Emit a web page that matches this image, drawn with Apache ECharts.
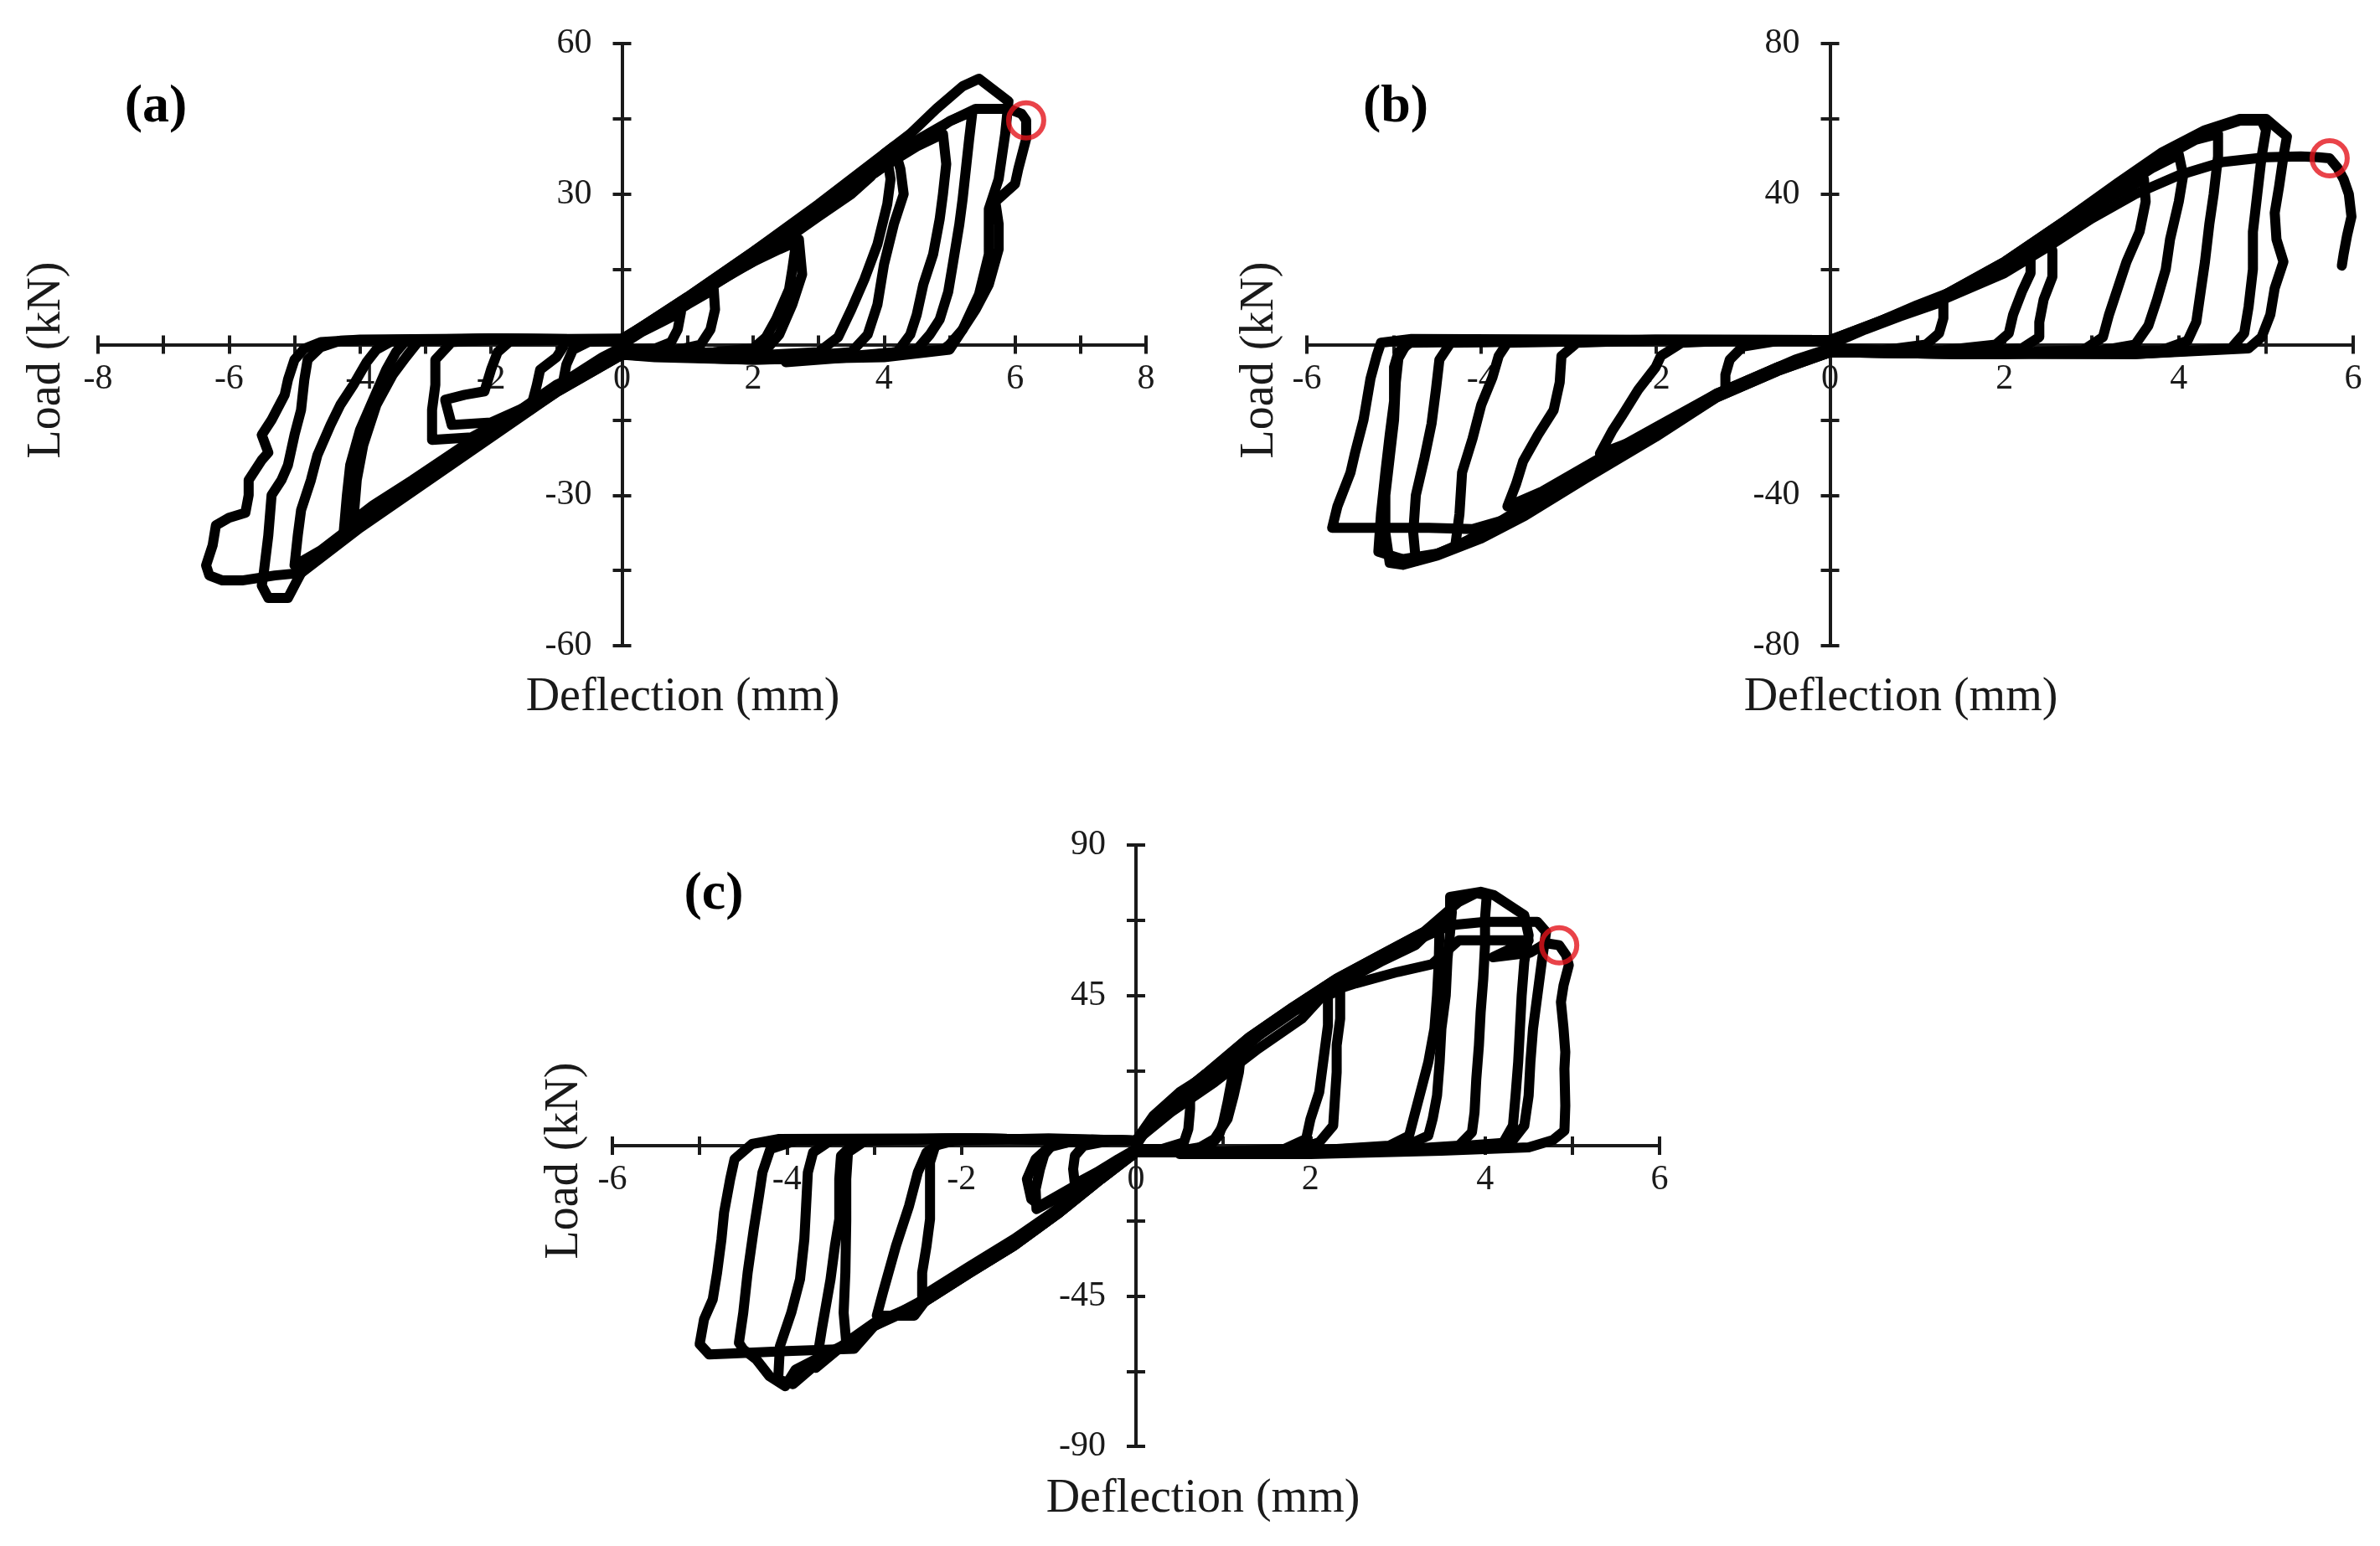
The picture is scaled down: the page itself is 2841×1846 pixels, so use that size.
<!DOCTYPE html>
<html><head><meta charset="utf-8">
<script src="https://cdn.jsdelivr.net/npm/echarts@6/dist/echarts.min.js"></script>
<style>html,body{margin:0;padding:0;background:#fff}#c{width:2841px;height:1846px}</style>
</head><body><div id="c"></div>
<script>
// ---------- Panel (a) cycles: [deflection mm, load kN] ----------
const a1 = [[0,0],[0.3,2.5],[0.6,4.5],[0.9,6.5],[0.85,3],[0.75,0.5],[0.5,-0.8],[0.2,-1],[0,-0.5],[-0.3,-2.5],[-0.6,-5],[-0.9,-7.5],[-0.85,-4],[-0.75,-1],[-0.5,0.6],[-0.2,0.8],[0,0.5]];
const a2 = [[0,0.5],[0.5,4],[1.0,8],[1.4,11],[1.42,7],[1.35,3],[1.2,0],[0.8,-1.2],[0.3,-1.5],[0,-1],[-0.5,-5],[-1.0,-9],[-1.4,-13],[-1.3,-8],[-1.25,-5],[-1.0,-2.5],[-0.85,0.5],[-0.4,1],[0,0.8]];
const a3 = [[0,0.8],[0.5,4.5],[1.0,9],[1.5,13],[2.0,16.5],[2.4,19],[2.66,20.5],[2.6,15],[2.55,11],[2.35,5],[2.2,1.5],[2.0,-0.8],[1.4,-1.5],[0.6,-2],[0,-1.5],[-0.6,-6],[-1.2,-11],[-1.8,-15],[-2.3,-18.5],[-2.9,-19],[-2.9,-13],[-2.85,-8],[-2.85,-3],[-2.6,0.5],[-2.0,1],[-1,1],[0,1]];
const a4 = [[0,1],[0.6,5.5],[1.2,10.5],[1.8,15],[2.4,19.5],[2.7,21],[2.75,14],[2.6,8],[2.4,2],[2.2,-1],[1.5,-2],[0.5,-2],[0,-1.5],[-0.7,-7],[-1.4,-12],[-2.0,-15.5],[-2.6,-16],[-2.7,-11],[-2.4,-10],[-2.1,-9.3],[-2.0,-5],[-1.9,-1.5],[-1.7,0.8],[-0.8,1],[0,1]];
const a5 = [[0,1],[0.8,7],[1.6,13.5],[2.4,20],[3.0,25.5],[3.5,30],[3.8,33.5],[4.0,38],[4.15,39.5],[4.25,35],[4.3,30],[4.15,24],[4.0,16],[3.9,8],[3.75,2],[3.5,-1.5],[2.5,-2.5],[1.2,-2.5],[0,-2],[-0.8,-7],[-1.6,-13.5],[-2.4,-20],[-3.2,-27],[-3.8,-32],[-4.1,-35],[-4.05,-27],[-3.95,-20],[-3.75,-12],[-3.5,-6],[-3.3,-2.5],[-3.1,0.8],[-2,1.2],[0,1]];
const a6 = [[0,1],[1,8.5],[2,17],[3,26],[3.7,32.5],[4.05,37],[4.1,33],[4.05,28],[3.9,20],[3.7,13],[3.5,7],[3.3,1.5],[3.0,-1.5],[1.5,-2.5],[0,-2],[-1,-8],[-2,-17],[-3,-26],[-3.8,-32.5],[-4.25,-37.5],[-4.2,-30],[-4.15,-24],[-4.0,-17],[-3.8,-11],[-3.6,-5],[-3.45,-1.5],[-3.3,0.8],[-2,1],[0,1.2]];
const a7 = [[0,1.2],[1,9],[2,17.5],[3,26.5],[4,35.5],[4.5,39.5],[4.9,42],[4.95,36],[4.9,30],[4.85,25],[4.75,18],[4.6,12],[4.5,6],[4.4,2],[4.2,-1.5],[3,-2.8],[1.5,-2.8],[0,-2],[-1,-9],[-2,-17.5],[-3,-26],[-4,-35],[-4.6,-41],[-5.0,-44],[-4.95,-38],[-4.9,-33],[-4.75,-27],[-4.65,-22],[-4.45,-16],[-4.3,-12],[-4.1,-8],[-3.9,-3.5],[-3.75,-1],[-3.5,0.8],[-2,1.2],[0,1]];
const a8 = [[0,1],[1,9.5],[2,18.5],[3,27.5],[4,36.5],[4.6,41.5],[5.0,44.5],[5.35,46.5],[5.3,41],[5.25,35],[5.2,29],[5.15,24],[5.05,16],[4.98,10.5],[4.85,5],[4.7,2],[4.5,-1],[3.5,-2.5],[2,-3],[0.5,-2.5],[0,-2],[-1,-9.5],[-2,-18],[-3,-27],[-4,-36],[-4.6,-42],[-4.9,-45.5],[-5.1,-50.5],[-5.4,-50.5],[-5.5,-48],[-5.47,-45.5],[-5.4,-38],[-5.35,-30],[-5.2,-27],[-5.1,-24],[-5.0,-18],[-4.9,-13],[-4.85,-7],[-4.8,-3],[-4.6,-0.5],[-4.3,0.8],[-2,1.2],[0,1]];
const a9 = [[0,1],[1,9.5],[2,18.5],[3,28],[4,38],[4.4,42],[4.8,47],[5.2,51.5],[5.45,53],[5.65,51],[5.9,48.5],[5.85,42],[5.75,33],[5.6,27],[5.6,18],[5.45,10],[5.2,3],[5.0,-1],[4,-2.5],[2,-3],[0,-2],[-1,-9.5],[-2,-18.5],[-3,-27.5],[-4,-36.5],[-4.6,-42.5],[-4.9,-45.5],[-5.3,-46],[-5.8,-47],[-6.1,-47],[-6.3,-46],[-6.35,-44],[-6.25,-40],[-6.2,-36],[-6.0,-34.5],[-5.75,-33.5],[-5.7,-30],[-5.7,-27],[-5.5,-23],[-5.4,-21.5],[-5.5,-18],[-5.35,-15],[-5.15,-10],[-5.1,-7],[-5.0,-3],[-4.85,-0.8],[-4.6,0.5],[-4,1],[-2,1.2],[0,1]];
const a10 = [[0,1],[1,9],[2,17.5],[3,26.5],[4,35.5],[4.5,40],[5.0,44.5],[5.4,47],[5.9,47],[6.1,46],[6.17,44.7],[6.17,41],[6.05,35],[6.0,32],[5.7,28.5],[5.75,24],[5.75,19],[5.6,12],[5.4,7],[5.2,3],[5.0,0],[4.9,-1],[4.5,-1.5],[3.5,-2.5],[2.5,-3.5]];
const aFail = [6.17, 44.7];

// ---------- Panel (b) cycles ----------
const b1 = [[0,0],[0.4,4],[0.8,7.5],[1.3,11.5],[1.3,7],[1.25,3],[1.1,0],[0.6,-1.5],[0,-1],[-0.4,-4],[-0.8,-8],[-1.2,-12],[-1.2,-8],[-1.15,-4],[-1.0,-0.5],[-0.6,1],[0,1]];
const b2 = [[0,1],[0.5,5],[1.0,10],[1.5,14.5],[2.0,20],[2.3,24],[2.3,19],[2.2,14],[2.1,8],[2.05,3],[1.9,0],[1.3,-1.5],[0.5,-2],[0,-1.5],[-0.6,-6],[-1.2,-12.5],[-1.8,-20],[-2.3,-26],[-2.64,-29],[-2.5,-23],[-2.38,-18.7],[-2.2,-12],[-2.0,-6],[-1.94,-3],[-1.7,0.5],[-1,1.2],[0,1]];
const b3 = [[0,1],[0.5,5.5],[1.0,10.5],[1.5,15],[2.0,21],[2.5,28],[2.55,25],[2.55,18],[2.45,12],[2.4,6],[2.4,2],[2.2,-1],[1.5,-2],[0,-1.5],[-0.6,-6],[-1.3,-13],[-2.0,-22],[-2.7,-31],[-3.3,-39],[-3.7,-43],[-3.6,-37],[-3.52,-31],[-3.35,-24],[-3.17,-17.4],[-3.1,-10],[-3.08,-3],[-2.9,0.5],[-2,1.2],[0,1]];
const b4 = [[0,1],[0.6,6],[1.2,11.5],[2.0,21],[2.6,30],[3.2,39],[3.6,44],[3.62,38],[3.55,30],[3.4,22],[3.3,15],[3.2,8],[3.13,2],[2.9,-1.5],[1.5,-2.5],[0,-2],[-0.6,-6.5],[-1.3,-13],[-2.0,-23],[-2.8,-33],[-3.5,-43],[-4.0,-50],[-4.3,-53.8],[-4.25,-45],[-4.22,-34],[-4.1,-25],[-4.0,-16],[-3.87,-8.6],[-3.8,-3],[-3.7,0.5],[-2,1.2],[0,1.2]];
const b5 = [[0,1.2],[0.6,6],[1.3,12],[2.0,21],[2.7,32],[3.3,41],[3.7,47],[4.0,50.5],[4.05,45],[4.0,38],[3.9,28],[3.85,20],[3.75,12],[3.65,5],[3.5,0],[3,-2],[1.5,-2.5],[0,-2],[-0.6,-6.5],[-1.3,-13.5],[-2.0,-23.5],[-2.8,-34],[-3.5,-44],[-4.0,-50.5],[-4.5,-55.5],[-4.75,-57.5],[-4.78,-50],[-4.75,-40],[-4.65,-30],[-4.57,-21],[-4.52,-12],[-4.48,-4],[-4.35,0.5],[-2,1.3],[0,1.2]];
const b6 = [[0,1.2],[0.6,6],[1.3,12.5],[2.0,21.5],[2.7,32.5],[3.3,42],[3.8,49.5],[4.2,54.5],[4.45,56],[4.45,50],[4.4,40],[4.35,32],[4.3,22],[4.25,14],[4.2,6],[4.1,1],[3.8,-1.5],[2,-2.5],[0,-2],[-0.6,-6.5],[-1.3,-13.5],[-2.0,-24],[-2.8,-34.5],[-3.5,-44.5],[-4.0,-51],[-4.5,-55.5],[-4.9,-57],[-5.18,-55],[-5.15,-45],[-5.1,-34],[-5.05,-24],[-5.0,-15],[-5.0,-6],[-4.95,-2],[-4.8,0.8],[-2,1.3],[0,1.2]];
const b7 = [[0,1.2],[0.6,6.5],[1.3,13],[2.0,22],[2.7,33],[3.3,42.5],[3.8,50],[4.3,56.5],[4.7,59.5],[4.95,59.5],[5.0,57],[4.95,50],[4.9,40],[4.85,30],[4.85,20],[4.8,10],[4.75,3],[4.6,-1],[3.5,-2.5],[1.5,-2.5],[0,-2],[-0.6,-7],[-1.3,-14],[-2.0,-24],[-2.8,-35],[-3.5,-45],[-4.1,-49],[-4.6,-48.7],[-5.2,-48.7],[-5.71,-48.7],[-5.65,-43],[-5.6,-40],[-5.5,-34],[-5.45,-29],[-5.35,-20],[-5.27,-9],[-5.2,-3],[-5.15,0.5],[-4.8,1.5],[-2,1.3],[0,1.2]];
const b8 = [[0,1.2],[0.6,6.5],[1.3,13],[2.0,22],[2.7,33],[3.3,43],[3.8,51],[4.3,57],[4.7,60],[5.0,60],[5.24,55.3],[5.2,50],[5.15,42],[5.1,35],[5.12,28],[5.2,22],[5.1,15],[5.05,8],[4.95,2],[4.8,-1],[3.5,-2.5],[0,-2],[-0.6,-7],[-1.3,-14],[-2.0,-24.5],[-2.8,-35.5],[-3.5,-45.5],[-4.0,-51.5],[-4.5,-56],[-4.9,-58.5],[-5.05,-58],[-5.1,-50],[-5.1,-40],[-5.05,-30],[-5.0,-20],[-4.98,-10],[-4.95,-3.6],[-4.85,0.5],[-2,1.3],[0,1.2]];
const b9 = [[0,1.2],[0.6,6],[1.3,12],[2.0,19],[2.5,26],[3.0,33.5],[3.5,40],[4.0,45],[4.5,48.5],[5.0,49.8],[5.4,50],[5.6,49.8],[5.73,49.5],[5.82,47],[5.89,44],[5.95,40],[5.98,34],[5.93,29],[5.89,24],[5.87,21]];
const bFail = [5.73, 49.5];

// ---------- Panel (c) cycles ----------
const c1 = [[0,0],[0.2,8],[0.45,14],[0.62,17],[0.62,11],[0.6,5],[0.55,1],[0.3,-1],[0,-1],[-0.2,-4],[-0.45,-8],[-0.7,-11.5],[-0.72,-7],[-0.7,-3],[-0.6,0],[-0.3,1.5],[0,1.5]];
const c2 = [[0,1.5],[0.2,9],[0.5,16],[0.8,21],[1.12,25.5],[1.1,20],[1.05,13],[1.0,7],[0.95,3],[0.85,0],[0.5,-1.5],[0,-1.5],[-0.3,-6],[-0.7,-13],[-1.14,-19],[-1.15,-13],[-1.1,-7],[-1.05,-2.6],[-0.95,0.5],[-0.5,1.8],[0,1.5]];
const c3 = [[0,1.5],[0.3,10],[0.6,17],[0.95,23],[1.2,27],[1.18,22],[1.12,15],[1.05,8],[0.9,2],[0.7,-1],[0,-2],[-0.3,-6],[-0.7,-12],[-1.1,-18],[-1.2,-16],[-1.25,-10],[-1.15,-4],[-1.0,-0.5],[-0.7,1.5],[0,1.5]];
const c4 = [[0,1.5],[0.3,9],[0.7,17],[1.1,26],[1.5,35],[1.9,42],[2.34,46.5],[2.34,38],[2.3,30],[2.3,22],[2.28,14],[2.26,6],[2.1,1],[1.8,-1.5],[1,-2],[0,-2],[-0.4,-9],[-0.9,-19],[-1.4,-28],[-1.9,-36],[-2.45,-45],[-2.45,-38],[-2.4,-30],[-2.36,-22],[-2.36,-12],[-2.36,-5],[-2.3,0],[-2,2],[-1,2],[0,1.5]];
const c5 = [[0,1.5],[0.3,10],[0.7,18],[1.1,27],[1.5,36],[2.0,44],[2.2,44.5],[2.2,36],[2.15,26],[2.1,16],[2.0,8],[1.95,2],[1.7,-1],[0.8,-2],[0,-2],[-0.4,-9],[-0.9,-19],[-1.4,-28.5],[-1.9,-37],[-2.4,-46],[-2.54,-50.9],[-2.97,-50.9],[-2.9,-44],[-2.75,-30],[-2.6,-18],[-2.5,-8],[-2.4,-2],[-2.2,1.5],[-1,2.2],[0,1.5]];
const c6 = [[0,1.5],[0.3,10],[0.8,20],[1.3,31],[1.8,40],[2.3,48],[2.8,55],[3.2,60],[3.48,67],[3.47,55],[3.45,45],[3.42,35],[3.35,25],[3.25,15],[3.18,8],[3.13,3],[2.9,0],[2,-1.5],[0,-2],[-0.4,-9],[-0.9,-19.5],[-1.4,-29],[-1.9,-37],[-2.5,-47],[-3.0,-54],[-3.32,-59],[-3.35,-50],[-3.33,-38],[-3.32,-22.4],[-3.32,-10],[-3.3,-2],[-3.1,1.5],[-2,2.2],[0,1.5]];
const c7 = [[0,1.5],[0.3,10.5],[0.8,21],[1.3,32],[1.8,41],[2.3,49.5],[2.8,56],[3.3,63],[3.62,70],[3.6,64],[3.57,56],[3.55,45],[3.5,35],[3.48,25],[3.45,15],[3.4,8],[3.35,3],[3.1,0],[2,-1.5],[0,-2],[-0.4,-9.5],[-0.9,-20],[-1.4,-29.5],[-1.9,-37.5],[-2.5,-47.5],[-3.0,-53],[-3.3,-58.5],[-3.67,-66.5],[-3.6,-55],[-3.5,-40],[-3.45,-30],[-3.4,-22],[-3.4,-10],[-3.38,-3],[-3.2,1.5],[-2,2.2],[0,1.5]];
const c8 = [[0,1.5],[0.3,11],[0.8,21.5],[1.3,32.5],[1.8,41.5],[2.3,50],[2.8,57],[3.3,64],[3.7,73],[3.9,75.6],[4.02,75],[4.0,68],[4.0,60],[3.98,50],[3.95,40],[3.93,30],[3.9,20],[3.88,10],[3.85,4],[3.7,0],[2.5,-2],[0,-2],[-0.4,-10],[-0.9,-20.5],[-1.4,-30],[-1.9,-38],[-2.5,-48],[-3.0,-53.5],[-3.3,-59],[-3.6,-64],[-3.93,-71.4],[-4.1,-70],[-4.08,-60],[-3.95,-50],[-3.85,-40],[-3.8,-28],[-3.78,-18],[-3.76,-8],[-3.7,-2],[-3.5,1.5],[-2,2.2],[0,1.5]];
const c9 = [[0,1.5],[0.3,11],[0.8,21.5],[1.3,32.5],[1.8,41.5],[2.3,50],[2.8,57],[3.3,64],[3.6,69],[3.6,74.5],[3.95,76],[4.1,75],[4.45,69],[4.5,63],[4.45,55],[4.42,45],[4.4,35],[4.38,25],[4.35,15],[4.32,6],[4.2,0.5],[3,-1.5],[0,-2],[-0.4,-10],[-0.9,-20.5],[-1.4,-30],[-1.9,-38],[-2.5,-48],[-3.0,-53.5],[-3.3,-59],[-3.6,-63],[-3.9,-67],[-4.02,-72],[-4.2,-69],[-4.35,-64],[-4.5,-61],[-4.55,-59],[-4.5,-50],[-4.45,-38],[-4.38,-25],[-4.32,-15],[-4.28,-8],[-4.19,-1],[-3.9,1.5],[-2,2.2],[0,1.5]];
const c10 = [[0,1.5],[0.3,10.5],[0.8,21],[1.3,32],[1.8,41],[2.3,49.5],[2.8,56],[3.3,62.5],[3.6,66],[4.0,67],[4.6,67],[4.7,64],[4.65,55],[4.6,45],[4.55,35],[4.52,25],[4.5,15],[4.45,6],[4.3,1],[3,-1.5],[0,-2],[-0.4,-10],[-0.9,-20.5],[-1.4,-30],[-1.9,-38],[-2.5,-48],[-3.0,-54],[-3.23,-60.8],[-4.0,-61.5],[-4.6,-62.2],[-4.89,-62.5],[-5.0,-59.4],[-4.95,-52],[-4.85,-46],[-4.8,-38],[-4.75,-28],[-4.72,-20],[-4.65,-10],[-4.6,-4],[-4.4,0.5],[-4.1,2],[-2,2.2],[0,1.5]];
const c11 = [[0,1.5],[0.4,10],[0.9,19],[1.4,29],[1.9,38],[2.17,45.7],[2.52,48.6],[3.0,52],[3.39,54.3],[3.7,61.5],[4.5,61.5],[4.09,56.4],[4.52,57.8],[4.7,60.6],[4.85,60],[4.93,57],[4.96,54],[4.9,48],[4.87,43],[4.9,35],[4.92,28],[4.91,23],[4.92,12],[4.91,4.5],[4.78,1.7],[4.5,-0.5],[3.5,-1.5],[2,-2.5],[0.5,-2.5]];
const cFail = [4.85, 60];

// ---------- Axis settings ----------
const xRanges = [[-8, 8], [-6, 6], [-6, 6]];
const xTickStep = [1, 1, 1];
const xLabelStep = [2, 2, 2];
const yRanges = [[-60, 60], [-80, 80], [-90, 90]];
const yTickStep = [15, 20, 22.5];
const yLabelStep = [30, 40, 45];
const panelTags = ['(a)', '(b)', '(c)'];
const xTitle = 'Deflection (mm)';
const yTitle = 'Load (kN)';

const panels = [
  [a1,a2,a3,a4,a5,a6,a7,a8,a9,a10],
  [b1,b2,b3,b4,b5,b6,b7,b8,b9],
  [c1,c2,c3,c4,c5,c6,c7,c8,c9,c10,c11]
];
const fails = [aFail, bFail, cFail];

const FONT = '"Liberation Serif", "Times New Roman", serif';
const INK = '#1a1a1a';

const grids = [
  {left: 117, top: 52, width: 1251, height: 719},
  {left: 1560, top: 52, width: 1249, height: 719},
  {left: 731, top: 1009, width: 1250, height: 718}
];

function near(v, step) { const r = v / step; return Math.abs(r - Math.round(r)) < 1e-6; }

// axes cross at zero: shift each axis from its grid edge to the zero line
const xAxes = [], yAxes = [];
for (let sec = 0; sec < 2; sec++) {
  for (let g = 0; g < 3; g++) {
    const gr = grids[g];
    const [x0, x1] = xRanges[g], [y0, y1] = yRanges[g];
    const zeroFromBottom = gr.height * (0 - y0) / (y1 - y0);
    const zeroFromTop = gr.height - zeroFromBottom;
    const zeroFromLeft = gr.width * (0 - x0) / (x1 - x0);
    const zeroFromRight = gr.width - zeroFromLeft;
    xAxes.push({
      type: 'value', gridIndex: g, min: x0, max: x1, interval: xTickStep[g],
      position: sec ? 'top' : 'bottom',
      offset: sec ? -zeroFromTop : -zeroFromBottom,
      axisLine: {show: !sec, onZero: false, lineStyle: {color: INK, width: 4}},
      axisTick: {show: true, inside: false, length: 11, lineStyle: {color: INK, width: 4}},
      axisLabel: {show: !sec, margin: 20, fontFamily: FONT, fontSize: 42, color: INK,
        formatter: (v) => near(v, xLabelStep[g]) ? String(Math.round(v)) : ''},
      splitLine: {show: false}
    });
    yAxes.push({
      type: 'value', gridIndex: g, min: y0, max: y1, interval: yTickStep[g],
      position: sec ? 'right' : 'left',
      offset: sec ? -zeroFromRight : -zeroFromLeft,
      axisLine: {show: !sec, onZero: false, lineStyle: {color: INK, width: 4}},
      axisTick: {show: true, inside: false, length: 11, lineStyle: {color: INK, width: 4}},
      axisLabel: {show: !sec, margin: 36, fontFamily: FONT, fontSize: 42, color: INK,
        formatter: (v) => (Math.abs(v) > 1e-9 && near(v, yLabelStep[g])) ? String(Math.round(v)) : ''},
      splitLine: {show: false}
    });
  }
}

const series = [];
panels.forEach((cycles, g) => {
  cycles.forEach((cyc) => {
    series.push({
      type: 'line', xAxisIndex: g, yAxisIndex: g, data: cyc, showSymbol: false, smooth: false,
      lineStyle: {color: '#000', width: 12, cap: 'round', join: 'round'}, z: 3, silent: true
    });
  });
  series.push({
    type: 'scatter', xAxisIndex: g, yAxisIndex: g, data: [fails[g]], symbol: 'circle', symbolSize: 42,
    itemStyle: {color: 'rgba(0,0,0,0)', borderColor: '#e3141c', borderWidth: 6}, z: 5, silent: true
  });
});

const titleStyle = {fontFamily: FONT, fontSize: 56, fill: INK, textAlign: 'center', textVerticalAlign: 'middle'};
const tagStyle = {fontFamily: FONT, fontSize: 64, fontWeight: 'bold', fill: '#000', textAlign: 'center', textVerticalAlign: 'middle'};
const xTitlePos = [[815, 833], [2269, 833], [1436, 1790]];
const yTitlePos = [[56, 430], [1504, 430], [674, 1386]];
const tagPos = [[186, 128], [1666, 128], [852, 1068]];
const graphics = [];
for (let g = 0; g < 3; g++) {
  graphics.push({type: 'text', x: xTitlePos[g][0], y: xTitlePos[g][1], style: Object.assign({text: xTitle}, titleStyle)});
  graphics.push({type: 'text', x: yTitlePos[g][0], y: yTitlePos[g][1], rotation: Math.PI / 2, style: Object.assign({text: yTitle}, titleStyle)});
  graphics.push({type: 'text', x: tagPos[g][0], y: tagPos[g][1], style: Object.assign({text: panelTags[g]}, tagStyle)});
}

const chart = echarts.init(document.getElementById('c'));
chart.setOption({
  backgroundColor: '#fff',
  animation: false,
  grid: grids,
  xAxis: xAxes,
  yAxis: yAxes,
  series: series,
  graphic: graphics
});
</script></body></html>
